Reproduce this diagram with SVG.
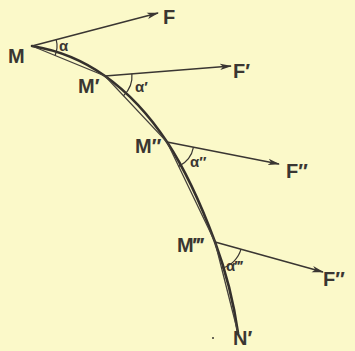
<svg xmlns="http://www.w3.org/2000/svg" width="355" height="351" viewBox="0 0 355 351">
<defs>
<marker id="ah" viewBox="0 0 12 8" refX="11" refY="4" markerWidth="12" markerHeight="8" markerUnits="userSpaceOnUse" orient="auto">
<path d="M0,0.8 L12,4 L0,7.2 L3,4 Z" fill="#3a3632"/>
</marker>
<style>
.bg{fill:#fbf9c9}
.lbl{font-family:"Liberation Sans",Arial,sans-serif;font-weight:bold;font-size:20px;fill:#3a3632}
.gr{font-family:"Liberation Sans",Arial,sans-serif;font-weight:bold;font-size:15px;fill:#3a3632}
.force{stroke:#3a3632;stroke-width:1.6;fill:none;marker-end:url(#ah)}
.arc{stroke:#3a3632;stroke-width:1.2;fill:none}
.traj{stroke:#34302c;stroke-width:2.6;fill:none;stroke-linecap:round}
.chord{stroke:#45413c;stroke-width:1.3;fill:none}
</style>
</defs>
<rect class="bg" x="0" y="0" width="355" height="351"/>
<g id="connectors">
<path class="traj" d="M32,46 C57.5,50.2 82.5,60 105,76 C127.5,92 148.7,114.3 167,142 C185.3,169.7 203.2,210.2 215,242 C226.8,273.8 233.7,302.3 238,333"/>
<polyline class="chord" points="32,46 105,76 167,142 215,242 238,333"/>
<line class="force" x1="32" y1="46" x2="158" y2="13"/>
<line class="force" x1="105" y1="76" x2="231" y2="66"/>
<line class="force" x1="167" y1="142" x2="279" y2="164"/>
<line class="force" x1="215" y1="242" x2="323" y2="272"/>
<path class="arc" d="M56.2,39.7 A25,25 0 0 1 55.1,55.5"/>
<path class="arc" d="M131.9,73.8 A27,27 0 0 1 123.5,95.7"/>
<path class="arc" d="M193.5,147.2 A27,27 0 0 1 178.7,166.4"/>
<path class="arc" d="M241,249.2 A27,27 0 0 1 221.6,268.2"/>
</g>
<g id="M"><text class="lbl" x="8" y="63">M</text></g>
<g id="M1"><text class="lbl" x="78" y="93">M′</text></g>
<g id="M2"><text class="lbl" x="135" y="153">M″</text></g>
<g id="M3"><text class="lbl" x="177" y="252">M‴</text></g>
<g id="N1"><text class="lbl" x="233" y="345">N′</text><circle cx="213" cy="338" r="1" fill="#3a3632"/></g>
<g id="F"><text class="lbl" x="163" y="24">F</text></g>
<g id="F1"><text class="lbl" x="233" y="78">F′</text></g>
<g id="F2"><text class="lbl" x="286" y="178">F″</text></g>
<g id="F3"><text class="lbl" x="323" y="286">F″</text></g>
<g id="a0"><text class="gr" x="59" y="51">α</text></g>
<g id="a1"><text class="gr" x="135" y="92">α′</text></g>
<g id="a2"><text class="gr" x="190" y="167">α″</text></g>
<g id="a3"><text class="gr" x="226" y="271">α‴</text></g>
</svg>
